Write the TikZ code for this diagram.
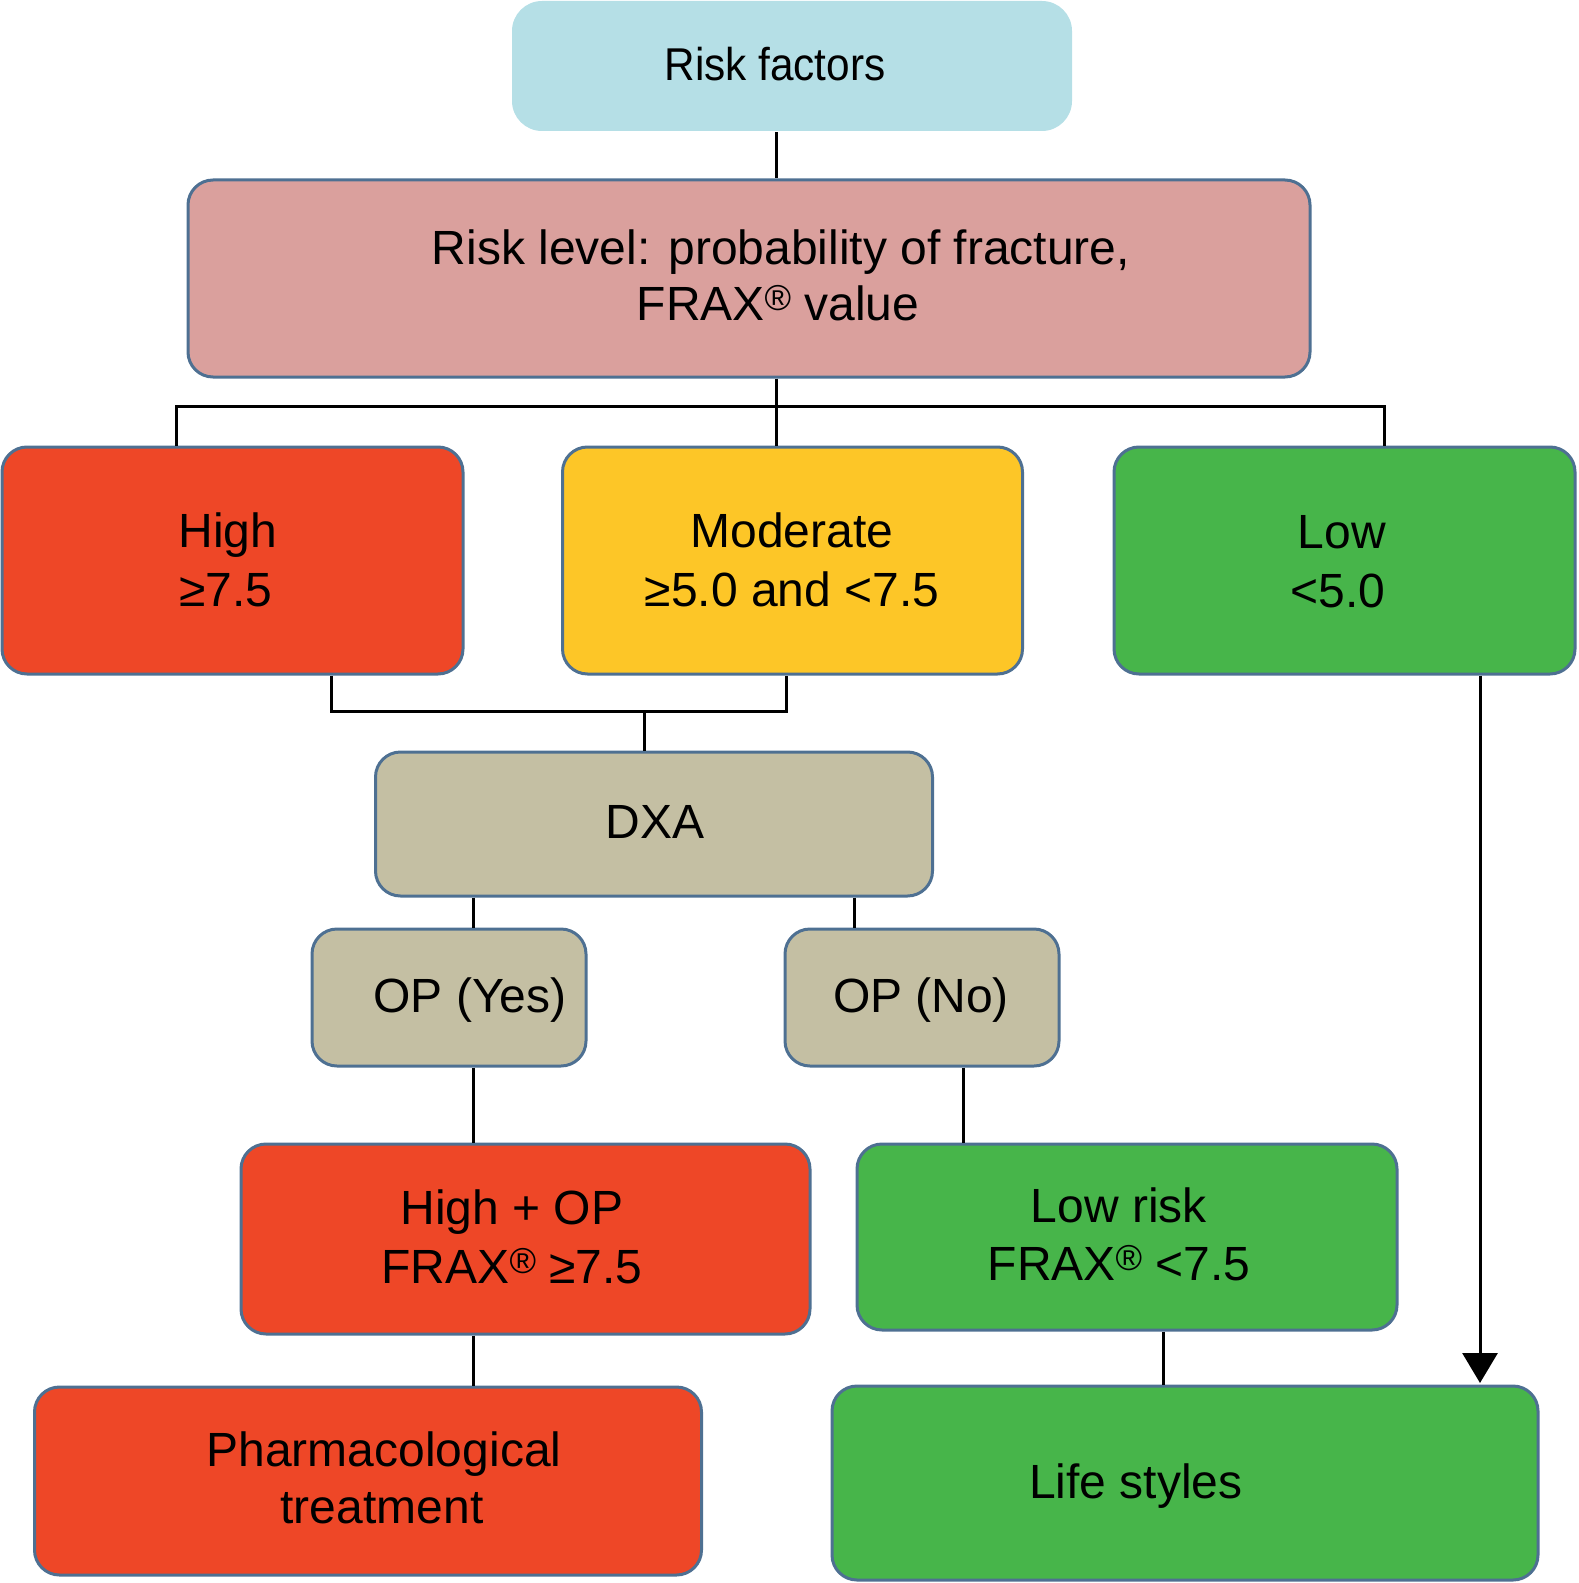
\documentclass[tikz,border=0pt]{standalone}
\usepackage{fontspec}
\setmainfont{Liberation Sans}
\usetikzlibrary{arrows.meta}
\definecolor{rfblue}{HTML}{B5DFE6}
\definecolor{rlpink}{HTML}{DAA09D}
\definecolor{hired}{HTML}{EE4727}
\definecolor{modyel}{HTML}{FDC627}
\definecolor{lowgrn}{HTML}{47B54A}
\definecolor{khaki}{HTML}{C4BFA3}
\definecolor{bordc}{HTML}{4E7092}
\newcommand\regmark{\raisebox{5pt}{\fontsize{18}{18}\selectfont ®}}
\tikzset{
  box/.style={rectangle, rounded corners=12.5pt, draw=bordc, line width=1.5pt, inner sep=0pt},
  txt/.style={anchor=base, inner sep=0pt, font=\fontsize{24}{28}\selectfont},
  conn/.style={draw=black, line width=1.5pt},
  arr/.style={conn, -{Triangle[width=17.5pt,length=15pt]}}
}
\begin{document}
\begin{tikzpicture}[x=0.5pt,y=-0.5pt]
\useasboundingbox (0,0) rectangle (1578,1583);
% boxes
\node[box, draw=none, fill=rfblue, rounded corners=15pt, minimum width=280pt, minimum height=65pt] (rf) at (792,66) {};
\node[box, fill=rlpink, minimum width=561pt, minimum height=98.5pt] (rl) at (749,278.5) {};
\node[box, fill=hired, minimum width=230.5pt, minimum height=113.5pt] (high) at (232.5,560.5) {};
\node[box, fill=modyel, minimum width=230pt, minimum height=113.5pt] (mod) at (792.5,560.5) {};
\node[box, fill=lowgrn, minimum width=230.5pt, minimum height=113.5pt] (low) at (1344.5,560.5) {};
\node[box, fill=khaki, minimum width=278.5pt, minimum height=72pt] (dxa) at (654,824) {};
\node[box, fill=khaki, minimum width=137pt, minimum height=68.5pt] (opy) at (449,997.5) {};
\node[box, fill=khaki, minimum width=137pt, minimum height=68.5pt] (opn) at (922,997.5) {};
\node[box, fill=hired, minimum width=284.5pt, minimum height=95pt] (highop) at (525.5,1239) {};
\node[box, fill=lowgrn, minimum width=270pt, minimum height=93pt] (lowrisk) at (1127,1237) {};
\node[box, fill=hired, minimum width=333.5pt, minimum height=94pt] (pharm) at (368,1481) {};
\node[box, fill=lowgrn, minimum width=353pt, minimum height=97pt] (life) at (1185,1483) {};
% x positions of connectors
\coordinate (xa) at (776,0);
\coordinate (xh) at (176.5,0);
\coordinate (xl) at (1384,0);
\coordinate (j1) at (776,406.5);
\coordinate (xhb) at (331,0);
\coordinate (xmb) at (786,0);
\coordinate (j2) at (644,711.5);
\coordinate (xy) at (473.5,0);
\coordinate (xn) at (854,0);
\coordinate (xn2) at (963,0);
\coordinate (xlr) at (1163,0);
\coordinate (xar) at (1480,0);
\coordinate (tip) at (1480,1383);
% connectors
\draw[conn] (rf.south -| xa) -- (rl.north -| xa);
\draw[conn] (rl.south -| j1) -- (mod.north -| j1);
\draw[conn] (high.north -| xh) |- (j1) -| (low.north -| xl);
\draw[conn] (high.south -| xhb) |- (j2) -| (mod.south -| xmb);
\draw[conn] (j2) -- (dxa.north -| j2);
\draw[conn] (dxa.south -| xy) -- (opy.north -| xy);
\draw[conn] (dxa.south -| xn) -- (opn.north -| xn);
\draw[conn] (opy.south -| xy) -- (highop.north -| xy);
\draw[conn] (opn.south -| xn2) -- (lowrisk.north -| xn2);
\draw[conn] (highop.south -| xy) -- (pharm.north -| xy);
\draw[conn] (lowrisk.south -| xlr) -- (life.north -| xlr);
\draw[arr] (low.south -| xar) -- (tip);
% texts
\node[txt, font=\fontsize{23}{28}\selectfont] (trf) at (775,81) {\scalebox{0.92}[1]{Risk factors}};
\node[txt] (trl1) at (781,265) {Risk level: probability of fracture,};
\node[txt] (trl2) at (778,321) {FRAX\regmark{} value};
\node[txt] (th1) at (228,547) {High};
\node[txt] (th2) at (226,606) {≥7.5};
\node[txt] (tm1) at (792,547) {Moderate};
\node[txt] (tm2) at (792,606) {≥5.0 and <7.5};
\node[txt] (tl1) at (1342,548) {Low};
\node[txt] (tl2) at (1338,607) {<5.0};
\node[txt] (tdxa) at (655,838) {DXA};
\node[txt] (topy) at (470,1012) {OP (Yes)};
\node[txt] (topn) at (921,1012) {OP (No)};
\node[txt] (tho1) at (512,1224) {High + OP};
\node[txt] (tho2) at (512,1283) {FRAX\regmark{} ≥7.5};
\node[txt] (tlr1) at (1119,1222) {Low risk};
\node[txt] (tlr2) at (1119,1280) {FRAX\regmark{} <7.5};
\node[txt] (tp1) at (384,1466) {Pharmacological};
\node[txt] (tp2) at (382,1523) {treatment};
\node[txt] (tls) at (1136,1498) {Life styles};
\end{tikzpicture}
\end{document}
